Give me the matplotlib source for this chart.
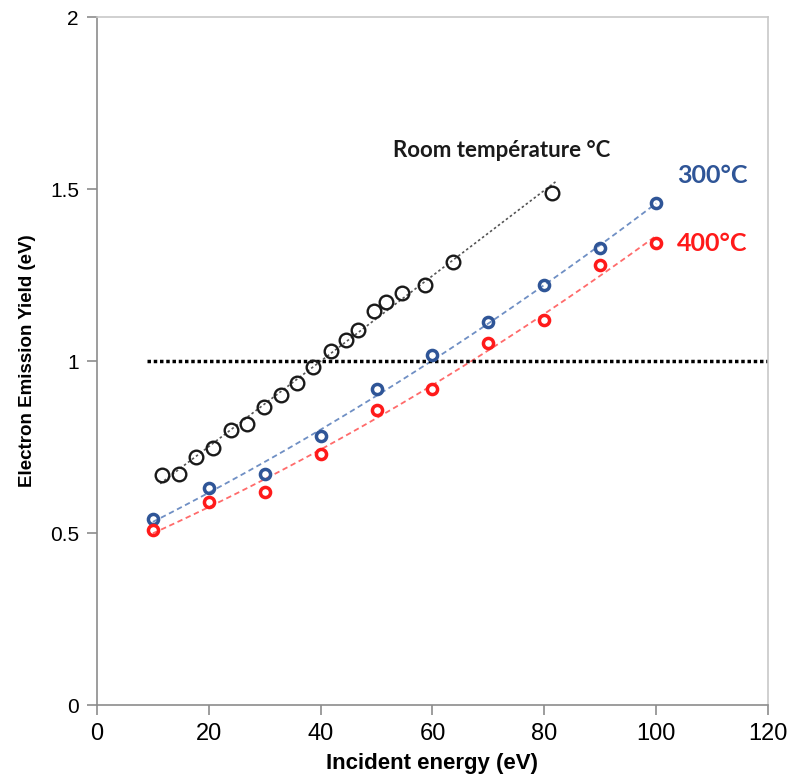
import numpy as np
import matplotlib
matplotlib.use('Agg')
import matplotlib.pyplot as plt

# room temperature series
room_energy = [11.6, 14.6, 17.7, 20.7, 23.9, 26.8, 29.8, 32.9, 35.7, 38.7,
               41.8, 44.6, 46.6, 49.6, 51.6, 54.6, 58.6, 63.6, 81.4]
room_yield = [0.669, 0.672, 0.721, 0.747, 0.800, 0.818, 0.866, 0.901, 0.936, 0.983,
              1.029, 1.060, 1.090, 1.145, 1.173, 1.198, 1.221, 1.288, 1.488]

energy = [10, 20, 30, 40, 50, 60, 70, 80, 90, 100]
yield_300 = [0.542, 0.630, 0.672, 0.782, 0.920, 1.018, 1.113, 1.221, 1.328, 1.459]
yield_400 = [0.509, 0.590, 0.619, 0.730, 0.858, 0.920, 1.052, 1.119, 1.279, 1.343]

blue = '#2f5597'
red = '#ff1a1a'

fig = plt.figure(figsize=(7.95, 7.83), dpi=100)
ax = fig.add_axes([0.122, 0.0996, 0.844, 0.8786])

# trend lines (excel-like fits)
xr = np.linspace(min(room_energy) - 0.3, max(room_energy) + 0.6, 100)
p = np.polyfit(room_energy, room_yield, 1)
ax.plot(xr, np.polyval(p, xr), color='#555555', lw=1.2, ls=(0, (1.5, 1.5)))

xs = np.linspace(min(energy), max(energy), 100)
p3 = np.polyfit(energy, yield_300, 2)
ax.plot(xs, np.polyval(p3, xs), color='#6f8fc4', lw=1.3, ls=(0, (3, 2)))
p4 = np.polyfit(energy, yield_400, 2)
ax.plot(xs, np.polyval(p4, xs), color='#ff6b6b', lw=1.3, ls=(0, (3, 2)))

# unity line
ax.plot([9, 120], [1, 1], color='black', lw=2.5, ls=(0, (1, 0.8)))

ax.plot(room_energy, room_yield, 'o', ms=9.8, mfc='none', mec='#1a1a1a', mew=1.7)
ax.plot(energy, yield_300, 'o', ms=7.3, mfc='none', mec=blue, mew=2.5)
ax.plot(energy, yield_400, 'o', ms=7.3, mfc='none', mec=red, mew=2.5)

ax.text(53.0, 1.613, 'Room température °C', fontsize=16, fontweight='bold',
        family='Lato', color='#1a1a1a', va='center', ha='left')
ax.text(103.7, 1.538, '300°C', fontsize=18, fontweight='bold',
        family='Lato', color=blue, va='center', ha='left')
ax.text(103.7, 1.343, '400°C', fontsize=18, fontweight='bold',
        family='Lato', color=red, va='center', ha='left')

ax.set_xlim(0, 120)
ax.set_ylim(0, 2)
ax.set_xticks([0, 20, 40, 60, 80, 100, 120])
ax.set_yticks([0, 0.5, 1, 1.5, 2])
ax.set_yticklabels(['0', '0.5', '1', '1.5', '2'])

for lab in ax.get_xticklabels():
    lab.set_family('Liberation Sans')
    lab.set_fontsize(17)
for lab in ax.get_yticklabels():
    lab.set_family('Liberation Sans')
    lab.set_fontsize(15)

ax.set_xlabel('Incident energy (eV)', fontsize=16, fontweight='bold',
              family='Liberation Sans', labelpad=6)
ax.set_ylabel('Electron Emission Yield (eV)', fontsize=13.5, fontweight='bold',
              family='Liberation Sans', labelpad=10)

for s in ax.spines.values():
    s.set_color('#8c8c8c')
    s.set_linewidth(1.2)
ax.spines['top'].set_color('#c8c8c8')
ax.spines['right'].set_color('#c8c8c8')
ax.tick_params(direction='out', length=7, width=1.2, color='#8c8c8c', pad=6)

fig.savefig('out.png', dpi=100)
